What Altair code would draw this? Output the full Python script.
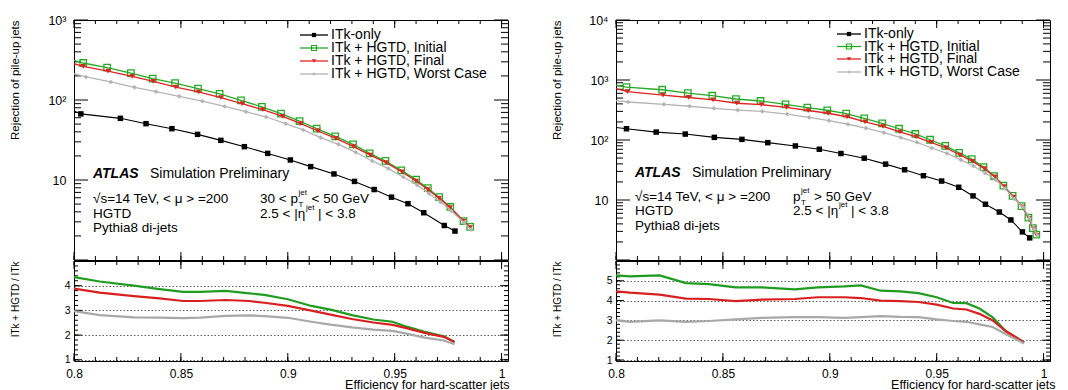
import altair as alt
import pandas as pd

FONT = "Liberation Sans"
NAMES = ["ITk-only", "ITk + HGTD, Initial", "ITk + HGTD, Final", "ITk + HGTD, Worst Case"]
LINE_COLORS = ["#000000", "#26aa26", "#e02222", "#b4b4b4"]
RATIO_COLORS = ["#000000", "#1f9c1f", "#d92020", "#a8a8a8"]

# ---------------- left panel (30 < pT < 50 GeV) ----------------
L_ITK_X = [0.8032, 0.8217, 0.8337, 0.8458, 0.8578, 0.8687, 0.8797, 0.8906, 0.9012, 0.9107,
           0.9216, 0.9312, 0.9404, 0.9485, 0.9562, 0.9636, 0.9732, 0.9782]
L_ITK_Y = [67, 59, 50.6, 43.8, 37.2, 31.3, 26.1, 21.5, 17.8, 14.7, 11.9, 9.6, 7.6, 6.1, 5.06, 3.9, 2.7, 2.3]
L_INIT_X = [0.8043, 0.8155, 0.8266, 0.8368, 0.8473, 0.858, 0.8681, 0.8781, 0.8879, 0.8968, 0.9055,
            0.9135, 0.9222, 0.9305, 0.9383, 0.9457, 0.9531, 0.96, 0.9655, 0.9708, 0.976, 0.9822, 0.9853]
L_INIT_Y = [290, 254, 217, 185, 163, 139, 119, 99, 82, 67.5, 54.6, 43.8, 35.1, 27.9, 21.5, 17.3,
            13.2, 10.1, 7.9, 6.1, 4.6, 3.07, 2.6]
L_FINAL_X = [0.8043, 0.8159, 0.8272, 0.8371, 0.8476, 0.8582, 0.8687, 0.8786, 0.8883, 0.8976, 0.9061,
             0.9141, 0.9225, 0.9308, 0.9386, 0.946, 0.9534, 0.96, 0.9655, 0.9708, 0.976, 0.9822, 0.9853]
L_FINAL_Y = [264, 230, 198, 171, 145, 126, 107, 90, 75.7, 62.5, 50.6, 41, 33.2, 26.1, 20.5, 16.5,
             12.6, 9.7, 7.6, 5.9, 4.5, 3.07, 2.54]
L_WORST_X = [0.8056, 0.8172, 0.8283, 0.8384, 0.8492, 0.86, 0.8705, 0.8804, 0.8899, 0.899, 0.9072,
             0.9154, 0.9237, 0.9318, 0.9395, 0.947, 0.954, 0.9605, 0.9661, 0.9714, 0.9766, 0.9825, 0.9856]
L_WORST_Y = [194, 168, 144, 127, 111, 97, 83, 71.5, 61.3, 50.6, 42.2, 33.8, 27.9, 22.2, 17.3, 13.9,
             10.9, 8.66, 6.75, 5.3, 4.1, 2.93, 2.4]
L_EDGE = [73, 313, 284, 213]  # values where the curves enter the frame at eff = 0.8

LR_X = [0.80, 0.812, 0.828, 0.84, 0.851, 0.859, 0.871, 0.882, 0.889, 0.90, 0.911, 0.92, 0.93,
        0.94, 0.949, 0.956, 0.964, 0.973, 0.978]
LR_INIT = [4.35, 4.17, 4.0, 3.86, 3.75, 3.75, 3.79, 3.69, 3.63, 3.45, 3.18, 3.03, 2.81, 2.63,
           2.54, 2.33, 2.13, 1.95, 1.72]
LR_FINAL = [3.88, 3.72, 3.58, 3.49, 3.38, 3.38, 3.42, 3.38, 3.31, 3.18, 2.99, 2.83, 2.65, 2.51,
            2.41, 2.27, 2.09, 1.93, 1.72]
LR_WORST = [2.97, 2.81, 2.72, 2.71, 2.69, 2.71, 2.78, 2.8, 2.77, 2.7, 2.54, 2.42, 2.31, 2.22,
            2.17, 2.05, 1.9, 1.78, 1.63]

# ---------------- right panel (pT > 50 GeV) ----------------
R_ITK_X = [0.8049, 0.8188, 0.8324, 0.846, 0.8589, 0.871, 0.8839, 0.8951, 0.9052, 0.9161, 0.9261,
           0.935, 0.9438, 0.9523, 0.9603, 0.967, 0.9728, 0.9793, 0.9847, 0.9901, 0.9935]
R_ITK_Y = [154, 135.5, 125.6, 110.6, 102.5, 90.3, 79.6, 70.1, 59.5, 49.8, 39.6, 31.9, 25.4, 20.7,
           16.3, 11.7, 8.5, 6.3, 4.65, 2.94, 2.34]
R_INIT_X = [0.8049, 0.8216, 0.8336, 0.845, 0.8561, 0.8676, 0.8793, 0.8895, 0.8988, 0.9077, 0.9161,
            0.9245, 0.9324, 0.94, 0.9469, 0.954, 0.9605, 0.9664, 0.9719, 0.9769, 0.9812, 0.9855,
            0.9897, 0.9929, 0.995, 0.9966]
R_INIT_Y = [762, 688, 605, 547, 482, 447, 393, 347, 313, 276, 230, 190, 154, 126, 101, 79.6, 61,
            47.9, 35.3, 25.1, 17.4, 11.7, 7.9, 5.1, 3.4, 2.65]
R_FINAL_X = [0.8053, 0.822, 0.834, 0.8454, 0.8565, 0.868, 0.8797, 0.8899, 0.8992, 0.9081, 0.9165,
             0.9249, 0.9328, 0.9404, 0.9473, 0.9544, 0.9609, 0.9668, 0.9723, 0.9773, 0.9816,
             0.9859, 0.9901, 0.9932, 0.9953, 0.9968]
R_FINAL_Y = [642, 561, 511, 465, 410, 388, 349, 310, 279, 244, 200, 169, 137, 113, 91.5, 73.6,
             56.2, 44.1, 33.2, 24.3, 16.7, 11.2, 7.66, 5.0, 3.33, 2.6]
R_WORST_X = [0.8057, 0.8224, 0.8344, 0.8458, 0.8569, 0.8684, 0.8801, 0.8903, 0.8996, 0.9085, 0.9169,
             0.9253, 0.9332, 0.9408, 0.9477, 0.9548, 0.9613, 0.9672, 0.9727, 0.9777, 0.982,
             0.9862, 0.9904, 0.9935, 0.9955, 0.997]
R_WORST_Y = [430, 393, 365, 337, 315, 299, 270, 238, 211, 183, 158, 133, 110, 91, 73.6, 59.7,
             46.5, 36.9, 28.1, 21.5, 15.5, 10.5, 7.6, 4.95, 3.3, 2.57]
R_EDGE = [162, 822, 720, 453]

RR_X = [0.80, 0.8065, 0.8204, 0.8327, 0.8435, 0.8559, 0.8682, 0.8836, 0.8944, 0.9068, 0.9145,
        0.9238, 0.933, 0.9415, 0.95, 0.9577, 0.9639, 0.97, 0.9762, 0.9824, 0.987, 0.9909]
RR_INIT = [5.27, 5.22, 5.27, 4.88, 4.83, 4.67, 4.67, 4.57, 4.67, 4.72, 4.77, 4.5, 4.47, 4.38,
           4.17, 3.88, 3.87, 3.6, 3.15, 2.45, 2.15, 1.9]
RR_FINAL = [4.47, 4.4, 4.3, 4.1, 4.08, 3.97, 4.05, 4.08, 4.17, 4.17, 4.13, 4.0, 3.97, 3.93,
            3.8, 3.6, 3.55, 3.33, 3.0, 2.45, 2.15, 1.88]
RR_WORST = [3.0, 2.93, 3.0, 2.93, 2.97, 3.05, 3.13, 3.17, 3.17, 3.13, 3.17, 3.22, 3.18, 3.17,
            3.05, 2.97, 2.93, 2.8, 2.67, 2.3, 2.05, 1.83]

# ---------------- layout constants ----------------
W, H_TOP, H_RAT = 434, 240, 100
X_DOMAIN = [0.8, 1.003]
X_MAJOR = [0.8, 0.85, 0.9, 0.95, 1.0]
X_MINOR = [round(0.8 + 0.01 * i, 2) for i in range(21)]
ONE = pd.DataFrame({"a": [0]})

SHAPES = [("square", True, 30), ("square", False, 42), ("triangle-down", True, 30), ("diamond", True, 22)]


def frame_ticks(xsc, ysc, H, y_major, y_minor, y_big, y_small, x_label_axis, y_label_axis, dummy):
    """Axis labels plus ROOT-style inward ticks on all four sides of the frame."""
    layers = [alt.Chart(dummy).mark_point(opacity=0).encode(
        x=alt.X("eff:Q", scale=xsc, axis=x_label_axis), y=alt.Y("val:Q", scale=ysc, axis=y_label_axis))]
    for vals, L in ((X_MAJOR, 8), (X_MINOR, 4)):
        df = pd.DataFrame({"eff": vals})
        X = alt.X("eff:Q", scale=xsc, axis=None)
        layers.append(alt.Chart(df).mark_rule(color="black", strokeWidth=1).encode(
            x=X, y=alt.value(H), y2=alt.value(H - L)))
        layers.append(alt.Chart(df).mark_rule(color="black", strokeWidth=1).encode(
            x=X, y=alt.value(0), y2=alt.value(L)))
    for vals, L in ((y_major, y_big), (y_minor, y_small)):
        df = pd.DataFrame({"val": vals})
        Y = alt.Y("val:Q", scale=ysc, axis=None)
        layers.append(alt.Chart(df).mark_rule(color="black", strokeWidth=1).encode(
            y=Y, x=alt.value(0), x2=alt.value(L)))
        layers.append(alt.Chart(df).mark_rule(color="black", strokeWidth=1).encode(
            y=Y, x=alt.value(W), x2=alt.value(W - L)))
    return layers


def txt(x, y, s, size=13.5, weight="normal", style="normal", color="black"):
    return alt.Chart(ONE).mark_text(text=s, fontSize=size, fontWeight=weight, fontStyle=style,
                                    align="left", baseline="middle", color=color, font=FONT
                                    ).encode(x=alt.value(x), y=alt.value(y))


def top_panel(series, edges, ymax, legend_pos, rows, pcol, right):
    xsc = alt.Scale(domain=X_DOMAIN, nice=False, zero=False)
    ysc = alt.Scale(type="log", domain=[1, ymax], nice=False)
    majors = [10 ** n for n in range(0, len(str(ymax)))]
    minors = [k * 10 ** n for n in range(0, len(str(ymax)) - 1) for k in range(2, 10)]
    ylab = alt.Axis(orient="left", values=majors[1:], ticks=False, domain=False, grid=False,
                    labelExpr="datum.value == 10 ? '10' : datum.value == 100 ? '10²' : datum.value == 1000 ? '10³' : '10⁴'",
                    labelFontSize=12.5, labelPadding=8, labelFlush=False,
                    title="Rejection of pile-up jets", titleFontSize=11.5, titleAngle=270,
                    titleAlign="right", titleBaseline="middle", titleX=-59, titleY=0)
    dummy = pd.DataFrame({"eff": [0.9], "val": [10]})
    layers = frame_ticks(xsc, ysc, H_TOP, majors, minors, 14, 7, None, ylab, dummy)
    for i, (name, (xs, ys)) in enumerate(zip(NAMES, series)):
        ldf = pd.DataFrame({"eff": [0.8] + xs, "val": [edges[i]] + ys})
        pdf = pd.DataFrame({"eff": xs, "val": ys})
        enc = dict(x=alt.X("eff:Q", scale=xsc, axis=None), y=alt.Y("val:Q", scale=ysc, axis=None))
        layers.append(alt.Chart(ldf).mark_line(color=LINE_COLORS[i], strokeWidth=1.1 if i == 0 else 1.3,
                                               clip=True).encode(**enc))
        shp, filled, size = SHAPES[i]
        layers.append(alt.Chart(pdf).mark_point(shape=shp, filled=filled, size=size, color=LINE_COLORS[i],
                                                opacity=1, strokeWidth=1.3, clip=True).encode(**enc))
    # legend
    lx1, lx2, tx, ly = legend_pos
    for i, name in enumerate(NAMES):
        shp, filled, size = SHAPES[i]
        layers.append(alt.Chart(ONE).mark_rule(color=LINE_COLORS[i], strokeWidth=1.3).encode(
            x=alt.value(lx1), x2=alt.value(lx2), y=alt.value(ly[i])))
        layers.append(alt.Chart(ONE).mark_point(shape=shp, filled=filled, size=size * 0.6, color=LINE_COLORS[i],
                                                opacity=1, strokeWidth=1.2).encode(
            x=alt.value((lx1 + lx2) / 2), y=alt.value(ly[i])))
        layers.append(txt(tx, ly[i], name, size=14))
    # annotations
    ya, y1, y2, y3 = rows
    layers.append(txt(19, ya, "ATLAS", size=14, weight="bold", style="italic"))
    layers.append(txt(76, ya, "Simulation Preliminary", size=14))
    layers.append(txt(19, y1, "√s=14 TeV, < μ > =200"))
    layers.append(txt(19, y2, "HGTD"))
    layers.append(txt(19, y3, "Pythia8 di-jets"))
    if not right:
        layers.append(txt(pcol, y1, "30 < p"))
        px = pcol + 38.5
        layers.append(txt(px, y1 - 6.5, "jet", size=8))
        layers.append(txt(px, y1 + 6, "T", size=8))
        layers.append(txt(px + 13, y1, "< 50 GeV"))
    else:
        layers.append(txt(pcol, y1, "p"))
        px = pcol + 8
        layers.append(txt(px, y1 - 6.5, "jet", size=8))
        layers.append(txt(px, y1 + 6, "T", size=8))
        layers.append(txt(px + 13, y1, "> 50 GeV"))
    layers.append(txt(pcol, y2, "2.5 < |η"))
    layers.append(txt(pcol + 46, y2 - 6, "jet", size=8))
    layers.append(txt(pcol + 58, y2, "| < 3.8"))
    return alt.layer(*layers).resolve_axis(x="independent", y="independent").properties(width=W, height=H_TOP)


def ratio_panel(xs, ratios, ymax, title_x_shift):
    xsc = alt.Scale(domain=X_DOMAIN, nice=False, zero=False)
    ysc = alt.Scale(domain=[0.95, ymax], nice=False, zero=False)
    labels = list(range(1, ymax))
    minors = [round(1 + 0.2 * i, 1) for i in range(int((ymax - 1) / 0.2) + 1)]
    xlab = alt.Axis(orient="bottom", values=X_MAJOR, format="~g", ticks=False, domain=False, grid=False,
                    labelFontSize=12, labelPadding=7, labelFlush=False,
                    title="Efficiency for hard-scatter jets", titleFontSize=12.5, titleAlign="right",
                    titleBaseline="alphabetic", titleX=W + title_x_shift, titleY=27)
    ylab = alt.Axis(orient="left", values=labels, ticks=False, domain=False, grid=True,
                    gridDash=[1.5, 2], gridColor="#333333", gridWidth=0.8,
                    labelFontSize=10.5, labelPadding=4, labelFlush=False,
                    title="ITk + HGTD / ITk", titleFontSize=10, titleAngle=270,
                    titleAlign="right", titleBaseline="middle", titleX=-59, titleY=0)
    dummy = pd.DataFrame({"eff": [0.9], "val": [2]})
    layers = frame_ticks(xsc, ysc, H_RAT, labels, minors, 8, 4, xlab, ylab, dummy)
    for i, vals in enumerate(ratios):
        df = pd.DataFrame({"eff": xs, "val": vals})
        layers.append(alt.Chart(df).mark_line(color=RATIO_COLORS[i + 1], strokeWidth=2.2, clip=True).encode(
            x=alt.X("eff:Q", scale=xsc, axis=None), y=alt.Y("val:Q", scale=ysc, axis=None)))
    return alt.layer(*layers).resolve_axis(x="independent", y="independent").properties(width=W, height=H_RAT)


top_l = top_panel([(L_ITK_X, L_ITK_Y), (L_INIT_X, L_INIT_Y), (L_FINAL_X, L_FINAL_Y), (L_WORST_X, L_WORST_Y)],
                  L_EDGE, 1000, (226, 254, 257, [15, 28, 41, 54]), (154, 179, 193.5, 208), 186, False)
rat_l = ratio_panel(LR_X, [LR_INIT, LR_FINAL, LR_WORST], 5, 1)
top_r = top_panel([(R_ITK_X, R_ITK_Y), (R_INIT_X, R_INIT_Y), (R_FINAL_X, R_FINAL_Y), (R_WORST_X, R_WORST_Y)],
                  R_EDGE, 10000, (221, 245, 248, [14, 26.5, 39, 52]), (153, 177, 191, 206), 177, True)
rat_r = ratio_panel(RR_X, [RR_INIT, RR_FINAL, RR_WORST], 6, 5)

chart = alt.concat(top_l, top_r, rat_l, rat_r, columns=2, spacing={"row": 1, "column": 108},
                   bounds="flush").properties(
    padding={"left": 8, "top": 13, "right": 0, "bottom": 0}, background="white"
).configure_axis(labelFont=FONT, titleFont=FONT, labelColor="black", titleColor="black",
                 titleFontWeight="normal").configure_text(font=FONT).configure_view(
    stroke="black", strokeWidth=1)

chart.save("out.html", embed_options={"renderer": "svg", "actions": False})
